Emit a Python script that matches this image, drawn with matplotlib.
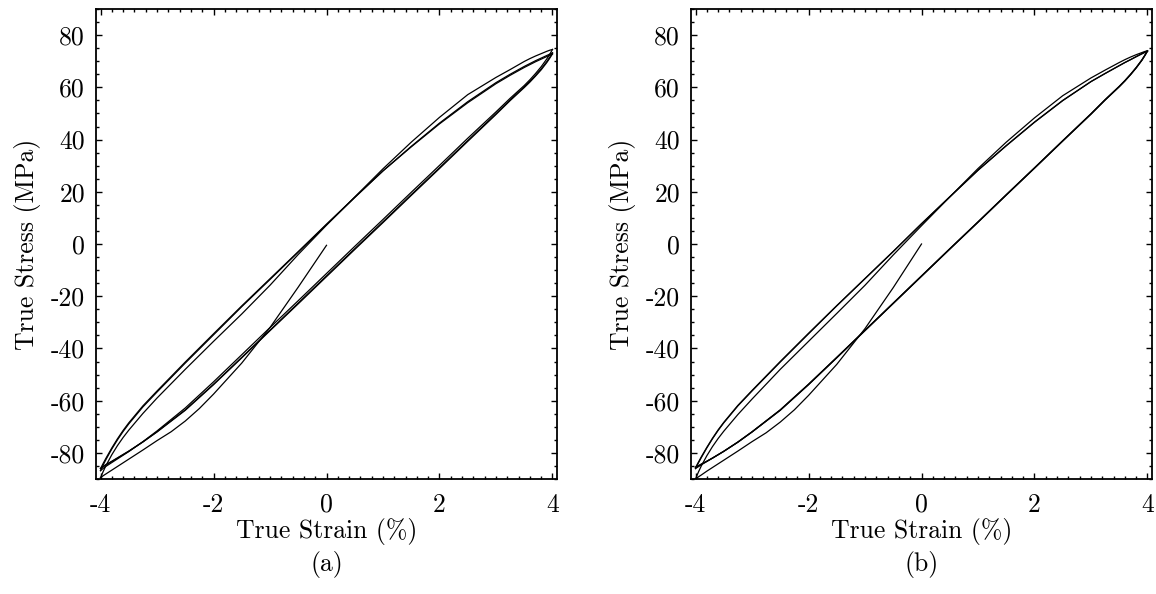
import numpy as np
import matplotlib
matplotlib.use('Agg')
import matplotlib.pyplot as plt
from matplotlib.ticker import MultipleLocator

plt.rcParams['font.family'] = 'serif'
plt.rcParams['font.serif'] = ['cmr10', 'DejaVu Serif']
plt.rcParams['mathtext.fontset'] = 'cm'
plt.rcParams['axes.unicode_minus'] = False
plt.rcParams['font.size'] = 18.5

# strain grids (%)
strain_up = [-4.0, -3.95, -3.9, -3.8, -3.7, -3.6, -3.5, -3.25, -3.0,
             -2.5, -2.0, -1.5, -1.0, -0.5, 0.0, 0.5, 1.0, 1.5, 2.0, 2.5,
             3.0, 3.25, 3.5, 3.6, 3.7, 3.8, 3.9, 3.95, 4.0]
strain_dn = strain_up[::-1]
strain_first = [0.0, -0.5, -1.0, -1.5, -2.0, -2.25, -2.5, -2.75, -3.0,
                -3.25, -3.5, -3.6, -3.7, -3.8, -3.9, -3.95, -4.0]

# panel (a) stresses (MPa)
a_first = [-0.5, -16.5, -32.0, -45.6, -57.5, -63.0, -67.8, -71.9, -75.3,
           -78.9, -82.4, -83.8, -85.2, -86.6, -88.0, -88.7, -89.5]
a_up1 = [-89.5, -87.0, -84.7, -80.7, -77.2, -74.1, -71.3, -64.9, -59.0,
         -48.0, -37.3, -26.8, -15.8, -4.0, 7.2, 18.0, 28.8, 39.0, 48.5, 57.2,
         63.8, 66.8, 69.9, 71.0, 72.0, 72.9, 73.8, 74.2, 74.5]
a_dn1 = [74.5, 72.6, 70.9, 67.9, 65.3, 62.9, 60.7, 55.8, 50.6,
         40.5, 30.1, 19.8, 9.4, -0.9, -11.3, -21.7, -32.0, -42.4, -52.8, -62.8,
         -71.6, -75.7, -79.5, -80.9, -82.3, -83.7, -85.1, -85.9, -86.8]
a_up2 = [-86.8, -84.5, -82.4, -78.5, -75.0, -71.8, -68.9, -62.4, -56.7,
         -45.6, -34.8, -24.0, -13.6, -3.1, 7.4, 17.8, 28.0, 37.4, 46.3, 54.5,
         61.8, 65.0, 68.0, 69.1, 70.2, 71.2, 72.2, 72.7, 73.2]
a_dn2 = [73.2, 71.5, 69.9, 67.1, 64.6, 62.3, 60.2, 55.2, 49.9,
         39.6, 29.2, 18.9, 8.5, -1.8, -12.2, -22.6, -33.0, -43.4, -53.7, -63.5,
         -71.9, -75.8, -79.4, -80.7, -82.0, -83.3, -84.6, -85.3, -86.0]
a_up3 = [-86.0, -83.9, -81.9, -78.1, -74.6, -71.4, -68.5, -62.0, -56.3,
         -45.2, -34.4, -23.7, -13.3, -2.9, 7.6, 17.9, 28.0, 37.2, 46.0, 54.1,
         61.4, 64.6, 67.6, 68.7, 69.8, 70.8, 71.8, 72.3, 72.8]
a_dn3 = [72.8, 71.1, 69.5, 66.7, 64.3, 62.0, 59.9, 54.9, 49.6,
         39.3, 28.9, 18.6, 8.2, -2.1, -12.5, -22.9, -33.2, -43.6, -53.9, -63.7,
         -72.0, -75.8, -79.3, -80.6, -81.9, -83.2, -84.4, -85.1, -86.0]

# panel (b) stresses (MPa)
b_first = [0.0, -16.7, -32.4, -46.1, -58.0, -63.5, -68.2, -72.3, -75.7,
           -79.3, -82.8, -84.2, -85.6, -87.0, -88.5, -89.2, -90.0]
b_up1 = [-90.0, -87.4, -85.1, -81.1, -77.6, -74.5, -71.7, -65.3, -59.4,
         -48.0, -37.3, -26.6, -15.8, -4.2, 7.0, 18.0, 28.9, 39.0, 48.3, 56.8,
         63.6, 66.6, 69.5, 70.6, 71.6, 72.5, 73.3, 73.7, 74.0]
b_dn1 = [74.0, 72.2, 70.5, 67.6, 65.0, 62.6, 60.4, 55.3, 49.9,
         39.6, 29.2, 18.9, 8.5, -1.8, -12.2, -22.6, -33.0, -43.4, -53.7, -63.5,
         -71.9, -75.8, -79.4, -80.7, -82.0, -83.3, -84.6, -85.3, -86.0]
b_up2 = [-86.0, -83.9, -81.9, -78.1, -74.6, -71.4, -68.5, -62.0, -56.3,
         -45.2, -34.4, -23.7, -13.3, -2.9, 7.7, 18.0, 28.2, 37.6, 46.6, 54.9,
         62.2, 65.3, 68.3, 69.5, 70.6, 71.8, 72.9, 73.5, 74.0]
b_dn2 = [74.0, 72.1, 70.4, 67.5, 64.9, 62.5, 60.3, 55.2, 49.8,
         39.5, 29.1, 18.8, 8.4, -1.9, -12.3, -22.7, -33.1, -43.5, -53.8, -63.6,
         -72.0, -75.9, -79.4, -80.7, -82.0, -83.2, -84.4, -85.0, -85.6]
b_up3 = [-85.6, -83.6, -81.6, -77.9, -74.4, -71.2, -68.3, -61.8, -56.1,
         -45.0, -34.2, -23.6, -13.2, -2.8, 7.8, 18.1, 28.3, 37.7, 46.7, 55.0,
         62.2, 65.3, 68.3, 69.5, 70.6, 71.7, 72.8, 73.3, 73.8]
b_dn3 = [73.8, 72.0, 70.3, 67.4, 64.8, 62.4, 60.2, 55.1, 49.7,
         39.4, 29.0, 18.7, 8.3, -2.0, -12.4, -22.8, -33.2, -43.6, -53.9, -63.7,
         -72.0, -75.9, -79.4, -80.7, -82.0, -83.2, -84.3, -84.9, -85.5]

x_ticks = [-4, -2, 0, 2, 4]
x_labels = ['-4', '-2', '0', '2', '4']
y_ticks = [-80, -60, -40, -20, 0, 20, 40, 60, 80]
y_labels = ['-80', '-60', '-40', '-20', '0', '20', '40', '60', '80']

fig = plt.figure(figsize=(11.56, 5.94), dpi=100)
W, H = 1156.0, 594.0


def setup(ax, tag):
    ax.set_xlim(-4.08, 4.08)
    ax.set_ylim(-90, 90)
    ax.set_xticks(x_ticks)
    ax.set_xticklabels(x_labels)
    ax.set_yticks(y_ticks)
    ax.set_yticklabels(y_labels)
    ax.xaxis.set_minor_locator(MultipleLocator(0.2))
    ax.yaxis.set_minor_locator(MultipleLocator(5))
    ax.tick_params(which='both', direction='in', top=True, right=True, width=1.0)
    ax.tick_params(which='major', length=4)
    ax.tick_params(which='minor', length=2.2)
    ax.tick_params(axis='x', which='major', pad=10)
    ax.tick_params(axis='y', which='major', pad=8)
    for s in ax.spines.values():
        s.set_linewidth(1.3)
    ax.set_xlabel('True Strain (%)', labelpad=1)
    ax.set_ylabel('True Stress (MPa)', labelpad=7)
    pos = ax.get_position()
    fig.text(pos.x0 + pos.width / 2, 1 - 565 / H, tag, ha='center', va='center')


def draw(ax, first, ups, dns):
    ax.plot(strain_first, first, color='k', lw=0.9)
    for u, d in zip(ups, dns):
        ax.plot(strain_up, u, color='k', lw=0.9)
        ax.plot(strain_dn, d, color='k', lw=0.9)


ax1 = fig.add_axes([96 / W, 1 - 479 / H, 461 / W, 470 / H])
draw(ax1, a_first, [a_up1, a_up2, a_up3], [a_dn1, a_dn2, a_dn3])
setup(ax1, '(a)')

ax2 = fig.add_axes([691 / W, 1 - 479 / H, 461 / W, 470 / H])
draw(ax2, b_first, [b_up1, b_up2, b_up3], [b_dn1, b_dn2, b_dn3])
setup(ax2, '(b)')

plt.savefig('out.png', dpi=100)
